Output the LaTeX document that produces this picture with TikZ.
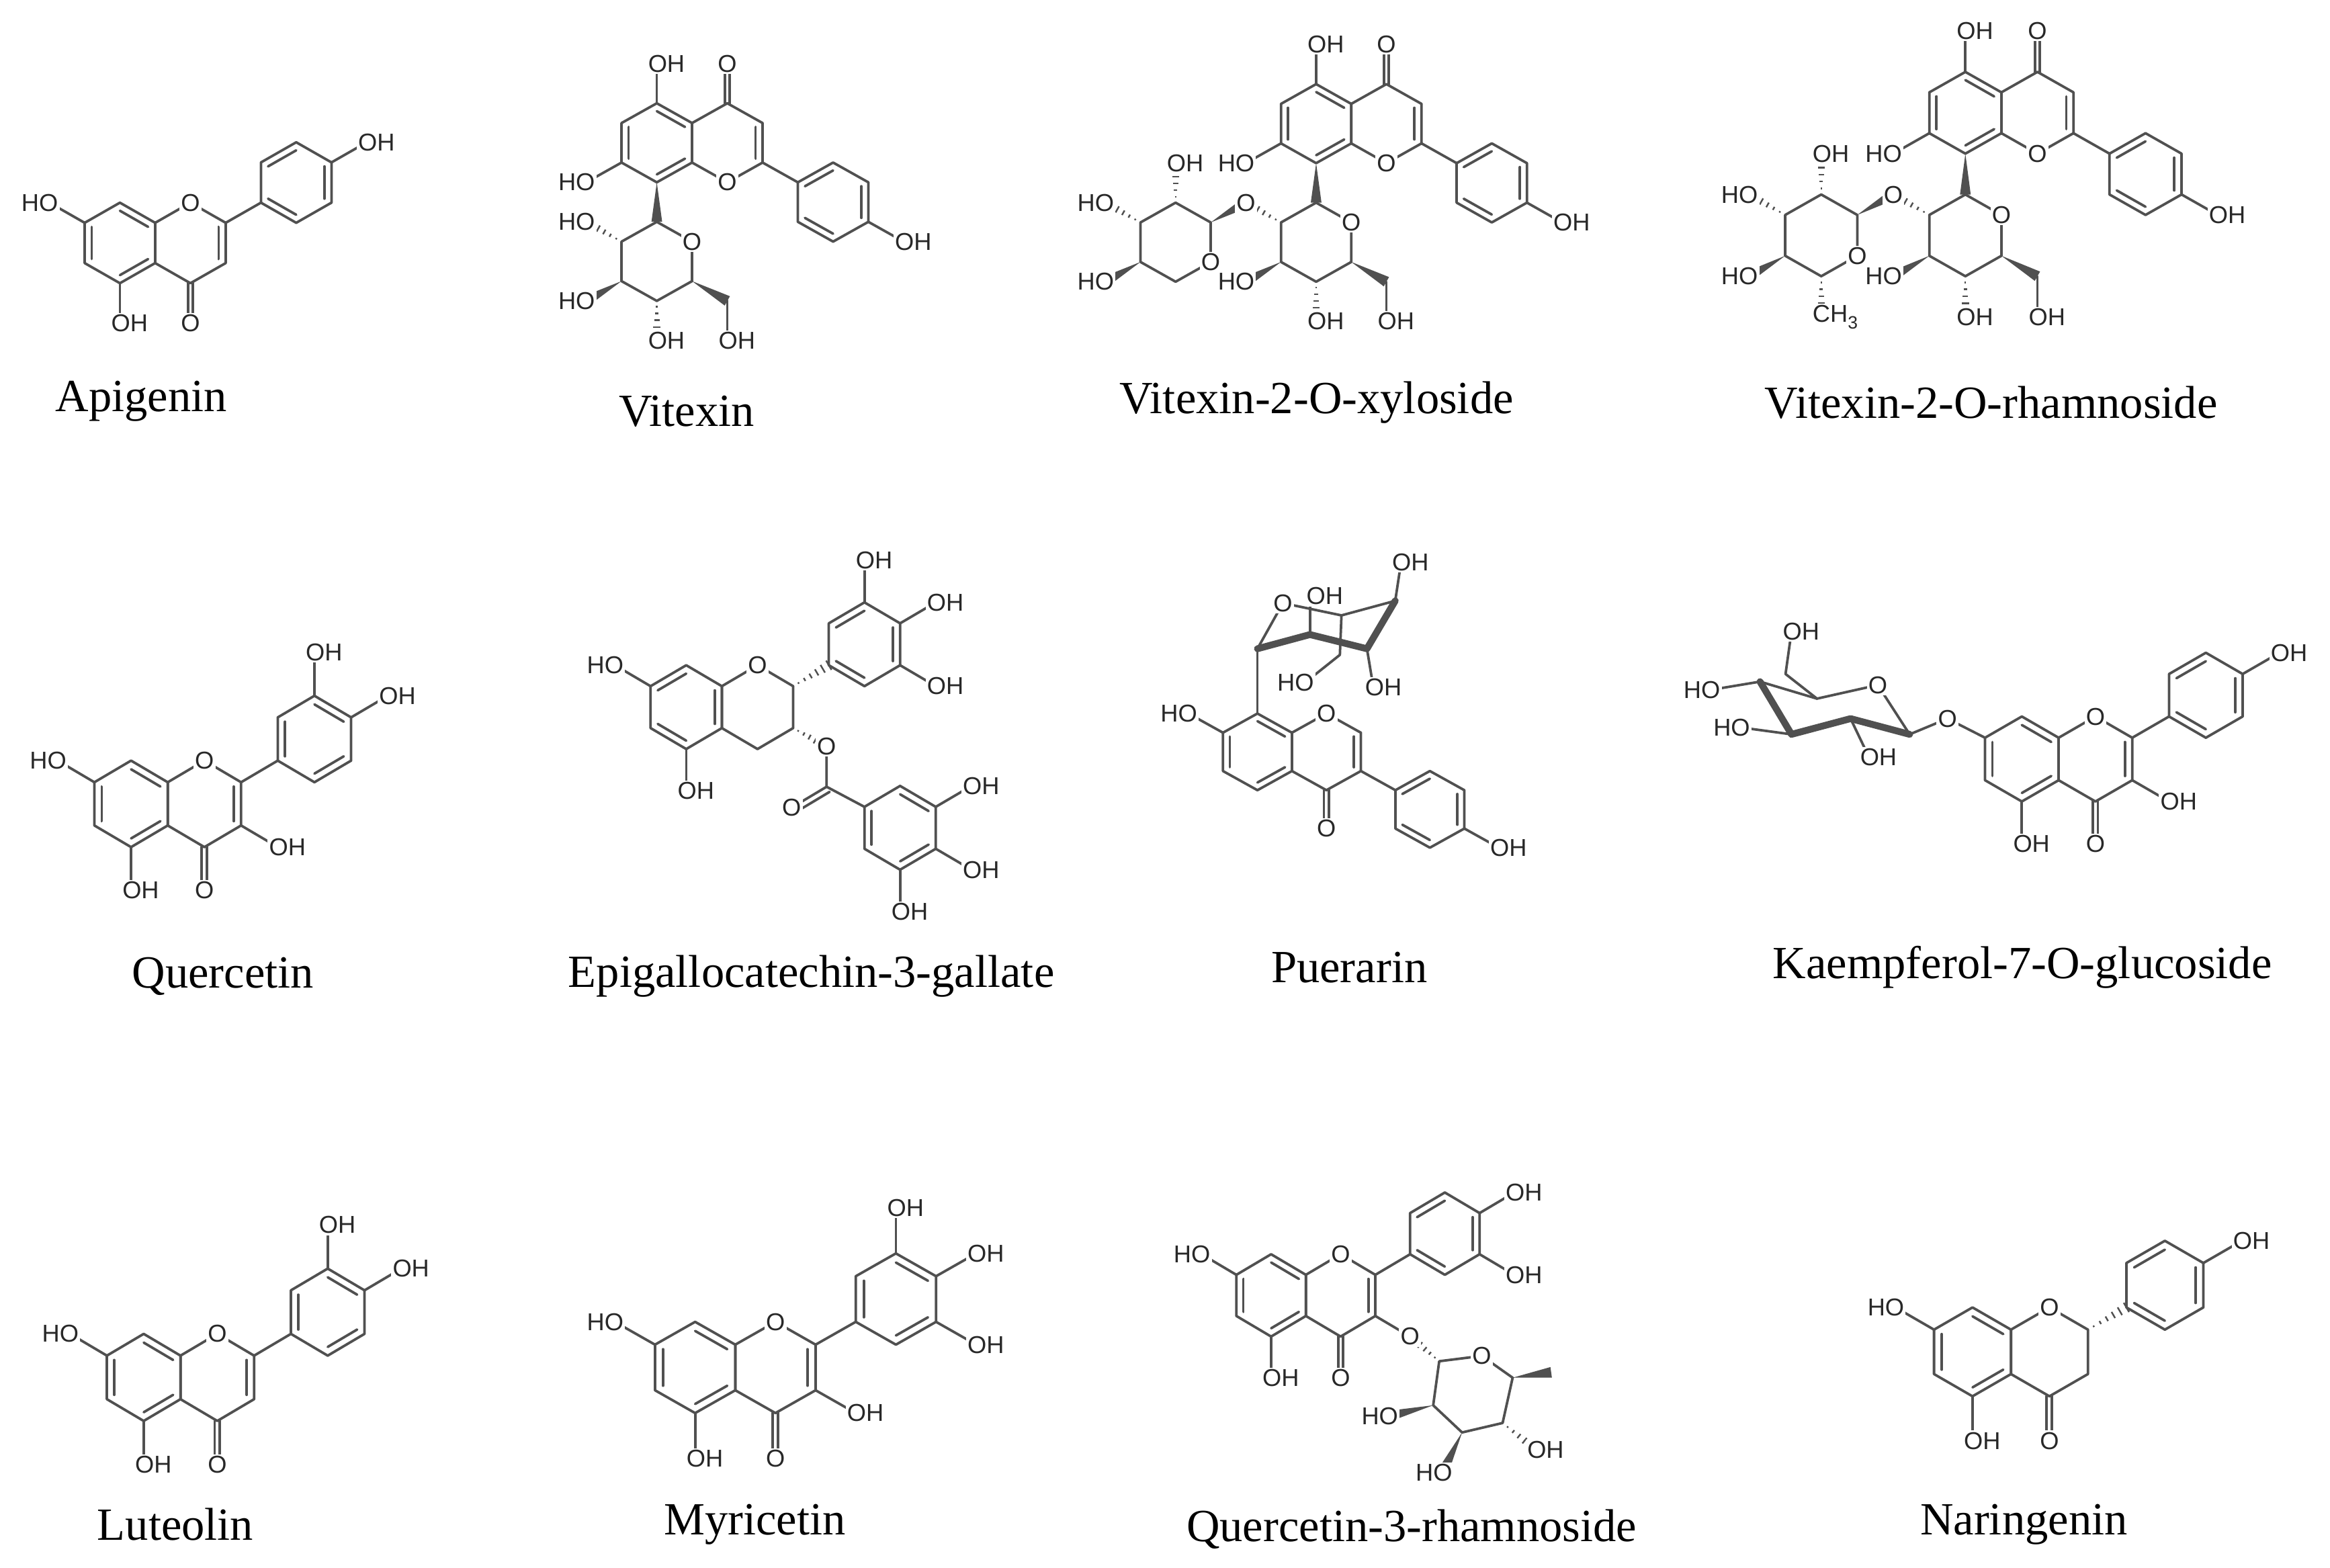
\documentclass[tikz,border=0pt]{standalone}
\usepackage{fontspec}
\setmainfont{Liberation Serif}
\newfontfamily\lblfam{Liberation Sans}
\usetikzlibrary{calc}
\definecolor{ln}{RGB}{80,80,80}
\definecolor{txt}{RGB}{40,40,40}
\tikzset{
  bond/.style={draw=ln,line width=0.85pt,line cap=round,line join=round},
  bold/.style={draw=ln,line width=2.3pt,line cap=round,line join=round},
  lbl/.style={font=\lblfam\fontsize{8.2}{9}\selectfont,text=txt,fill=white,inner sep=0.5pt},
  ohR/.style={lbl,anchor=west,xshift=-3.6pt},
  hoL/.style={lbl,anchor=east,xshift=3.6pt},
  oC/.style={lbl},
  nm/.style={font=\fontsize{15.5}{17}\selectfont,text=black,inner sep=0pt},
  mol/.style n args={4}{shift={(#1,#2)},x={({#3*0.5pt},0pt)},y={(0pt,{#4*0.5pt})}}
}
\newcommand\hexring[3]{%
  \foreach \k in {0,...,5}{\coordinate (hv\k) at ({#1+cos(90+60*\k)},{#2+sin(90+60*\k)});}
  \coordinate (hc) at (#1,#2);
  \draw[bond] (hv0)--(hv1)--(hv2)--(hv3)--(hv4)--(hv5)--cycle;
  \foreach \k in {#3}{\ifnum\k>-1 \pgfmathtruncatemacro\kk{mod(\k+1,6)}\draw[bond] ($(hc)!0.8!(hv\k)$)--($(hc)!0.8!(hv\kk)$);\fi}}
\newcommand\wdg[2]{\fill[ln] (#1) -- ($(#2)!1.8pt!90:(#1)$) -- ($(#2)!1.8pt!-90:(#1)$) -- cycle;}
\newcommand\hsh[2]{\foreach \t in {0.15,0.32,0.49,0.66,0.83,1.0}{\pgfmathsetmacro\hw{\t*1.8}\draw[ln,line width=0.55pt] ($(#1)!\t!(#2)!\hw pt!90:(#1)$) -- ($(#1)!\t!(#2)!\hw pt!-90:(#1)$);}}
\newcommand\flavrings[3]{\hexring{0}{0}{#1}\hexring{1.732}{0}{#2}\hexring{4.33}{1.5}{#3}\node[oC] (ro) at (1.732,1) {O};}
\newcommand\carb{\draw[bond] (1.67,-1)--(1.67,-2);\draw[bond] (1.79,-1)--(1.79,-2);\node[oC] (co) at (1.732,-2) {O};}
\newcommand\blink{\draw[bond] (2.598,0.5)--(3.464,1);}
\newcommand\csugar{%
  \wdg{0,-1}{0,-2}
  \draw[bond] (0,-2)--(0.866,-2.5)--(0.866,-3.5)--(0,-4)--(-0.866,-3.5)--(-0.866,-2.5)--cycle;
  \wdg{0.866,-3.5}{1.732,-4}\draw[bond] (1.732,-4)--(1.732,-5);
  \hsh{0,-4}{0,-5}\wdg{-0.866,-3.5}{-1.732,-4}
  \node[oC] at (0.866,-2.5) {O};
  \node[ohR] at (1.732,-5) {OH};\node[ohR] at (0,-5) {OH};\node[hoL] at (-1.732,-4) {HO};}
\newcommand\vitcore{%
  \begin{scope}[yscale=-1]\flavrings{1,3,5}{4}{0,2,4}\carb\blink\end{scope}
  \draw[bond] (-0.866,-0.5)--(-1.732,-1);\draw[bond] (0,1)--(0,2);\draw[bond] (5.196,-2)--(6.062,-2.5);
  \csugar
  \node[hoL] at (-1.732,-1) {HO};\node[ohR] at (0,2) {OH};\node[ohR] at (6.062,-2.5) {OH};}
\newcommand\pentose{%
  \hsh{-0.866,-2.5}{-1.732,-2}\wdg{-2.598,-2.5}{-1.732,-2}
  \draw[bond] (-3.464,-2)--(-2.598,-2.5)--(-2.598,-3.5)--(-3.464,-4)--(-4.33,-3.5)--(-4.33,-2.5)--cycle;
  \hsh{-3.464,-2}{-3.464,-1}\hsh{-4.33,-2.5}{-5.196,-2}\wdg{-4.33,-3.5}{-5.196,-4}
  \node[oC] at (-1.732,-2) {O};\node[oC] at (-2.598,-3.5) {O};
  \node[ohR] at (-3.464,-1) {OH};\node[hoL] at (-5.196,-2) {HO};\node[hoL] at (-5.196,-4) {HO};}
\newcommand\aopen{\draw[bond] (-0.866,0.5)--(-1.732,1);\draw[bond] (0,-1)--(0,-2);
  \node[hoL] at (-1.732,1) {HO};\node[ohR] at (0,-2) {OH};}
\begin{document}
\begin{tikzpicture}[x=0.5pt,y=-0.5pt]
\useasboundingbox[fill=white] (0,0) rectangle (1568,1055);
% Apigenin
\begin{scope}[mol={80.7}{163.5}{27.4}{27.1}]
  \flavrings{1,3,5}{4}{0,2,4}\carb\blink\aopen
  \draw[bond] (5.196,2)--(6.062,2.5);\node[ohR] at (6.062,2.5) {OH};
\end{scope}
% Vitexin
\begin{scope}[mol={442}{96.1}{27.4}{26.6}]
  \vitcore
  \hsh{-0.866,-2.5}{-1.732,-2}\node[hoL] at (-1.732,-2) {HO};
\end{scope}
% Vitexin-2-O-xyloside
\begin{scope}[mol={885.7}{83.2}{27.3}{26.6}]
  \vitcore\pentose
\end{scope}
% Vitexin-2-O-rhamnoside
\begin{scope}[mol={1322.6}{75.9}{28}{27.5}]
  \vitcore\pentose
  \hsh{-3.464,-4}{-3.464,-5}\node[ohR] at (-3.464,-5) {CH\raisebox{-0.5ex}{\fontsize{6}{6}\selectfont 3}};
\end{scope}
% Quercetin
\begin{scope}[mol={88.2}{541}{28.5}{29.1}]
  \flavrings{1,3,5}{4}{1,3,5}\carb\blink\aopen
  \draw[bond] (2.598,-0.5)--(3.464,-1);\draw[bond] (4.33,2.5)--(4.33,3.5);\draw[bond] (5.196,2)--(6.062,2.5);
  \node[ohR] at (3.464,-1) {OH};\node[ohR] at (4.33,3.5) {OH};\node[ohR] at (6.062,2.5) {OH};
\end{scope}
% EGCG
\begin{scope}[mol={461.8}{475.9}{27.7}{28.2}]
  \flavrings{0,2,4}{-1}{0,2,4}\aopen
  \hsh{2.598,0.5}{3.464,1}
  \hsh{2.598,-0.5}{3.41,-0.94}
  \draw[bond] (3.41,-0.94)--(3.41,-1.9)--(4.33,-2.38);
  \draw[bond] (3.41,-1.9)--(2.56,-2.4);\draw[bond] ($(3.41,-1.9)!2pt!90:(2.56,-2.4)$)--($(2.56,-2.4)!2pt!-90:(3.41,-1.9)$);
  \hexring{5.196}{-2.88}{1,3,5}
  \draw[bond] (6.062,-2.38)--(6.93,-1.88);\draw[bond] (6.062,-3.38)--(6.93,-3.88);\draw[bond] (5.196,-3.88)--(5.196,-4.88);
  \draw[bond] (4.33,2.5)--(4.33,3.5);\draw[bond] (5.196,2)--(6.062,2.5);\draw[bond] (5.196,1)--(6.062,0.5);
  \node[oC] at (3.41,-0.94) {O};\node[oC] at (2.56,-2.4) {O};
  \node[ohR] at (6.93,-1.88) {OH};\node[ohR] at (6.93,-3.88) {OH};\node[ohR] at (5.196,-4.88) {OH};
  \node[ohR] at (4.33,3.5) {OH};\node[ohR] at (6.062,2.5) {OH};\node[ohR] at (6.062,0.5) {OH};
\end{scope}
% Puerarin
\begin{scope}[mol={846.2}{506}{26.8}{25.8}]
  \hexring{0}{0}{1,3,5}\hexring{1.732}{0}{4}\hexring{4.33}{-1.5}{0,2,4}
  \node[oC] at (1.732,1) {O};\carb
  \draw[bond] (2.598,-0.5)--(3.464,-1);
  \draw[bond] (-0.866,0.5)--(-1.732,1);\node[hoL] at (-1.732,1) {HO};
  \draw[bond] (5.196,-2)--(6.062,-2.5);\node[ohR] at (6.062,-2.5) {OH};
  \draw[bond] (0,1)--(0,2.69);
  \draw[bond] (0,2.69)--(0.64,3.88)--(2.11,3.56)--(3.46,3.94);
  \draw[bold] (3.46,3.94)--(2.75,2.69)--(1.32,3.06)--(0,2.69);
  \draw[bond] (1.32,3.06)--(1.32,3.9);
  \draw[bond] (2.11,3.56)--(2.07,2.53)--(1.2,1.81);
  \draw[bond] (2.75,2.69)--(2.9,1.75);\draw[bond] (3.46,3.94)--(3.6,4.9);
  \node[oC] at (0.64,3.88) {O};\node[ohR] at (1.45,4.06) {OH};
  \node[hoL] at (1.2,1.81) {HO};\node[ohR] at (2.92,1.69) {OH};\node[ohR] at (3.6,4.94) {OH};
\end{scope}
% Kaempferol-7-O-glucoside
\begin{scope}[mol={1360.6}{510.8}{28.6}{28.6}]
  \flavrings{1,3,5}{4}{0,2,4}\carb\blink
  \draw[bond] (0,-1)--(0,-2);\node[ohR] at (0,-2) {OH};
  \draw[bond] (2.598,-0.5)--(3.464,-1);\node[ohR] at (3.464,-1) {OH};
  \draw[bond] (5.196,2)--(6.062,2.5);\node[ohR] at (6.062,2.5) {OH};
  \draw[bond] (-0.866,0.5)--(-1.75,0.95)--(-2.64,0.58);
  \draw[bond] (-2.64,0.58)--(-3.39,1.74)--(-4.82,1.42)--(-6.16,1.82);
  \draw[bold] (-6.16,1.82)--(-5.42,0.58)--(-4.03,0.95)--(-2.64,0.58);
  \draw[bond] (-4.82,1.42)--(-5.56,2.0)--(-5.42,3.0);
  \draw[bond] (-6.16,1.82)--(-7.3,1.63);\draw[bond] (-5.42,0.58)--(-6.6,0.74);\draw[bond] (-4.03,0.95)--(-3.6,0.05);
  \node[oC] at (-1.75,0.95) {O};\node[oC] at (-3.39,1.74) {O};
  \node[ohR] at (-5.42,3.0) {OH};\node[hoL] at (-7.3,1.63) {HO};\node[hoL] at (-6.6,0.74) {HO};\node[ohR] at (-3.6,0.05) {OH};
\end{scope}
% Luteolin
\begin{scope}[mol={96.7}{927}{28.6}{29.3}]
  \flavrings{1,3,5}{4}{1,3,5}\carb\blink\aopen
  \draw[bond] (4.33,2.5)--(4.33,3.5);\draw[bond] (5.196,2)--(6.062,2.5);
  \node[ohR] at (4.33,3.5) {OH};\node[ohR] at (6.062,2.5) {OH};
\end{scope}
% Myricetin
\begin{scope}[mol={467.8}{920.3}{31.2}{30.7}]
  \flavrings{1,3,5}{4}{1,3,5}\carb\blink\aopen
  \draw[bond] (2.598,-0.5)--(3.464,-1);\node[ohR] at (3.464,-1) {OH};
  \draw[bond] (4.33,2.5)--(4.33,3.5);\draw[bond] (5.196,2)--(6.062,2.5);\draw[bond] (5.196,1)--(6.062,0.5);
  \node[ohR] at (4.33,3.5) {OH};\node[ohR] at (6.062,2.5) {OH};\node[ohR] at (6.062,0.5) {OH};
\end{scope}
% Quercetin-3-rhamnoside
\begin{scope}[mol={855.4}{871.8}{27}{27.7}]
  \flavrings{1,3,5}{4}{0,2,4}\carb\blink\aopen
  \draw[bond] (5.196,2)--(6.062,2.5);\draw[bond] (5.196,1)--(6.062,0.5);
  \node[ohR] at (6.062,2.5) {OH};\node[ohR] at (6.062,0.5) {OH};
  \draw[bond] (2.598,-0.5)--(3.464,-1);
  \hsh{4.19,-1.6}{3.464,-1}
  \draw[bond] (4.19,-1.6)--(5.25,-1.47)--(6.02,-2.0)--(5.77,-3.1)--(4.76,-3.33)--(4.04,-2.67)--cycle;
  \wdg{6.02,-2.0}{6.98,-1.87}
  \hsh{5.77,-3.1}{6.6,-3.75}\wdg{4.76,-3.33}{4.3,-4.25}\wdg{4.04,-2.67}{2.95,-2.93}
  \node[oC] at (3.464,-1) {O};\node[oC] at (5.25,-1.47) {O};
  \node[ohR] at (6.6,-3.75) {OH};\node[hoL] at (4.3,-4.3) {HO};\node[hoL] at (2.95,-2.93) {HO};
\end{scope}
% Naringenin
\begin{scope}[mol={1327.4}{909.8}{29.9}{29.9}]
  \flavrings{1,3,5}{-1}{0,2,4}\carb\aopen
  \hsh{2.598,0.5}{3.464,1}
  \draw[bond] (5.196,2)--(6.062,2.5);\node[ohR] at (6.062,2.5) {OH};
\end{scope}
% names
\node[nm] (n1) at (95,270) {Apigenin};
\node[nm] (n2) at (462,277) {Vitexin};
\node[nm] (n3) at (886,271) {Vitexin-2-O-xyloside};
\node[nm] (n4) at (1340,271) {Vitexin-2-O-rhamnoside};
\node[nm] (n5) at (150,657) {Quercetin};
\node[nm] (n6) at (546,657) {Epigallocatechin-3-gallate};
\node[nm] (n7) at (908,651) {Puerarin};
\node[nm] (n8) at (1361,651) {Kaempferol-7-O-glucoside};
\node[nm] (n9) at (118,1026) {Luteolin};
\node[nm] (n10) at (508,1026) {Myricetin};
\node[nm] (n11) at (950,1029) {Quercetin-3-rhamnoside};
\node[nm] (n12) at (1362,1026) {Naringenin};
\end{tikzpicture}
\end{document}
